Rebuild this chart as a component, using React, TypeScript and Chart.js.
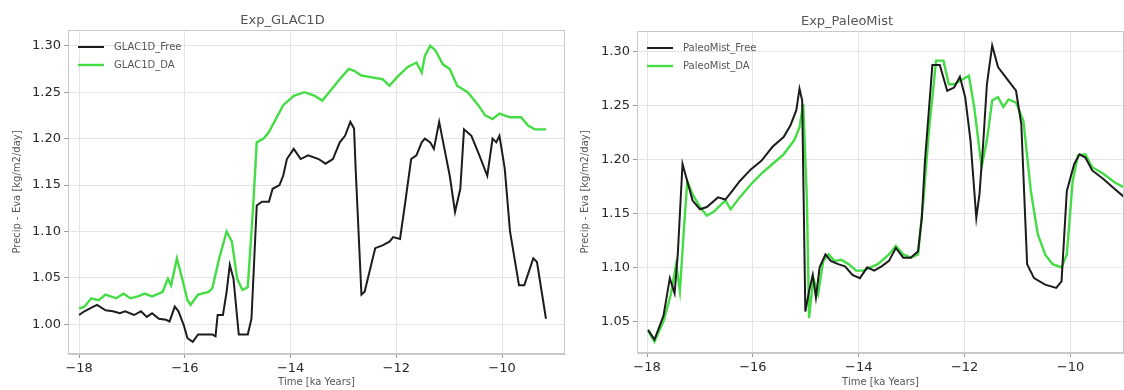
import React, { useEffect, useRef } from "react";
import { Chart, registerables } from "chart.js";

Chart.register(...registerables);

// ---------- data ----------
const glacFreeTime = [-18.0, -17.9, -17.73, -17.66, -17.5, -17.36, -17.23, -17.13, -16.96, -16.83, -16.72, -16.62, -16.49, -16.36, -16.29, -16.19, -16.12, -16.02, -15.95, -15.85, -15.75, -15.48, -15.42, -15.38, -15.28, -15.21, -15.15, -15.08, -14.98, -14.81, -14.74, -14.64, -14.54, -14.41, -14.34, -14.21, -14.14, -14.07, -13.94, -13.81, -13.67, -13.47, -13.34, -13.2, -13.07, -12.97, -12.87, -12.8, -12.77, -12.66, -12.6, -12.4, -12.26, -12.13, -12.06, -11.93, -11.83, -11.72, -11.62, -11.52, -11.46, -11.36, -11.29, -11.19, -11.09, -10.99, -10.89, -10.79, -10.72, -10.58, -10.45, -10.28, -10.18, -10.11, -10.05, -9.95, -9.85, -9.68, -9.58, -9.41, -9.34, -9.17];
const glacFreeValue = [1.01, 1.014, 1.019, 1.021, 1.015, 1.014, 1.012, 1.014, 1.01, 1.014, 1.008, 1.012, 1.006, 1.005, 1.003, 1.019, 1.014, 0.999, 0.985, 0.981, 0.989, 0.989, 0.987, 1.01, 1.01, 1.035, 1.064, 1.049, 0.989, 0.989, 1.006, 1.128, 1.132, 1.132, 1.146, 1.15, 1.16, 1.178, 1.189, 1.178, 1.182, 1.178, 1.173, 1.178, 1.196, 1.203, 1.218, 1.211, 1.168, 1.032, 1.035, 1.082, 1.085, 1.089, 1.094, 1.092, 1.132, 1.178, 1.182, 1.196, 1.2, 1.196, 1.189, 1.218, 1.189, 1.16, 1.121, 1.146, 1.21, 1.203, 1.185, 1.16, 1.2, 1.196, 1.203, 1.168, 1.1, 1.042, 1.042, 1.071, 1.067, 1.006];

const glacDaTime = [-18.0, -17.9, -17.77, -17.63, -17.5, -17.3, -17.16, -17.03, -16.89, -16.76, -16.62, -16.49, -16.42, -16.32, -16.26, -16.15, -16.05, -15.95, -15.89, -15.75, -15.55, -15.48, -15.35, -15.21, -15.11, -15.01, -14.91, -14.81, -14.71, -14.64, -14.51, -14.41, -14.28, -14.14, -13.94, -13.74, -13.54, -13.4, -13.27, -13.07, -12.9, -12.8, -12.66, -12.46, -12.26, -12.13, -11.99, -11.79, -11.62, -11.52, -11.46, -11.36, -11.26, -11.12, -10.99, -10.85, -10.65, -10.45, -10.32, -10.18, -10.05, -9.85, -9.64, -9.51, -9.38, -9.17];
const glacDaValue = [1.017, 1.019, 1.028, 1.026, 1.032, 1.028, 1.033, 1.028, 1.03, 1.033, 1.03, 1.033, 1.035, 1.049, 1.042, 1.071, 1.049, 1.026, 1.021, 1.032, 1.035, 1.039, 1.071, 1.1, 1.089, 1.049, 1.037, 1.04, 1.125, 1.196, 1.2, 1.207, 1.221, 1.236, 1.246, 1.25, 1.246, 1.241, 1.25, 1.264, 1.275, 1.273, 1.268, 1.266, 1.264, 1.257, 1.266, 1.277, 1.282, 1.271, 1.289, 1.3, 1.295, 1.28, 1.275, 1.257, 1.25, 1.236, 1.225, 1.221, 1.227, 1.223, 1.223, 1.214, 1.21, 1.21];

const paleoFreeTime = [-17.98, -17.86, -17.69, -17.57, -17.48, -17.42, -17.33, -17.24, -17.14, -17.0, -16.87, -16.66, -16.52, -16.39, -16.25, -16.04, -15.84, -15.63, -15.42, -15.29, -15.18, -15.12, -15.07, -15.01, -14.94, -14.87, -14.81, -14.74, -14.63, -14.53, -14.39, -14.26, -14.12, -13.98, -13.84, -13.71, -13.57, -13.43, -13.3, -13.16, -13.02, -12.88, -12.81, -12.75, -12.61, -12.47, -12.33, -12.2, -12.09, -11.99, -11.89, -11.78, -11.72, -11.65, -11.58, -11.48, -11.37, -11.23, -11.03, -10.93, -10.82, -10.69, -10.48, -10.27, -10.17, -10.07, -9.93, -9.83, -9.72, -9.59, -9.38, -9.17, -8.98];
const paleoFreeValue = [1.042, 1.033, 1.055, 1.09, 1.076, 1.112, 1.196, 1.18, 1.162, 1.154, 1.156, 1.165, 1.163, 1.171, 1.18, 1.191, 1.199, 1.212, 1.221, 1.232, 1.246, 1.266, 1.255, 1.059, 1.078, 1.093, 1.072, 1.1, 1.112, 1.106, 1.103, 1.101, 1.093, 1.09, 1.1, 1.097, 1.101, 1.106, 1.118, 1.109, 1.109, 1.115, 1.146, 1.199, 1.288, 1.288, 1.264, 1.267, 1.277, 1.258, 1.218, 1.146, 1.168, 1.215, 1.27, 1.306, 1.286, 1.277, 1.264, 1.233, 1.103, 1.09, 1.084, 1.081, 1.087, 1.171, 1.196, 1.205, 1.202, 1.19, 1.182, 1.173, 1.165];

const paleoDaTime = [-17.98, -17.86, -17.69, -17.55, -17.45, -17.38, -17.31, -17.24, -17.14, -17.0, -16.87, -16.73, -16.59, -16.52, -16.42, -16.25, -16.04, -15.84, -15.63, -15.42, -15.22, -15.12, -15.05, -14.98, -14.94, -14.86, -14.77, -14.67, -14.57, -14.46, -14.33, -14.19, -14.05, -13.91, -13.78, -13.64, -13.43, -13.3, -13.16, -13.02, -12.88, -12.78, -12.68, -12.54, -12.4, -12.3, -12.2, -12.06, -11.92, -11.82, -11.68, -11.58, -11.48, -11.37, -11.27, -11.17, -11.03, -10.89, -10.75, -10.62, -10.48, -10.34, -10.17, -10.07, -9.96, -9.86, -9.72, -9.59, -9.38, -9.17, -8.98];
const paleoDaValue = [1.041, 1.031, 1.05, 1.075, 1.103, 1.078, 1.131, 1.18, 1.168, 1.156, 1.148, 1.152, 1.159, 1.162, 1.154, 1.165, 1.177, 1.187, 1.196, 1.205, 1.218, 1.23, 1.252, 1.162, 1.053, 1.09, 1.075, 1.106, 1.112, 1.106, 1.107, 1.103, 1.097, 1.097, 1.1, 1.103, 1.112, 1.12, 1.112, 1.109, 1.112, 1.162, 1.224, 1.292, 1.292, 1.27, 1.27, 1.274, 1.278, 1.249, 1.193, 1.218, 1.255, 1.258, 1.249, 1.256, 1.253, 1.236, 1.171, 1.131, 1.112, 1.103, 1.1, 1.112, 1.18, 1.204, 1.205, 1.193, 1.187, 1.179, 1.174];

const xTickValues = [-18, -16, -14, -12, -10];
const glacYTicks = [1.0, 1.05, 1.1, 1.15, 1.2, 1.25, 1.3];
const paleoYTicks = [1.05, 1.1, 1.15, 1.2, 1.25, 1.3];

const glacTitle = "Exp_GLAC1D";
const paleoTitle = "Exp_PaleoMist";
const glacLabels = ["GLAC1D_Free", "GLAC1D_DA"];
const paleoLabels = ["PaleoMist_Free", "PaleoMist_DA"];
const xAxisTitle = "Time [ka Years]";
const yAxisTitle = "Precip - Eva [kg/m2/day]";

// ---------- styles ----------
const FONT = '"DejaVu Sans", sans-serif';
const BLACK = "#1c1c1c";
const GREEN = "#45dc45";
const GRID = "#e4e4e4";
const FRAME = "#c9c9c9";
const TICK_TEXT = "#2a2a2a";
const LABEL_TEXT = "#555555";

type PanelCfg = {
  title: string;
  labels: string[];
  free: { t: number[]; v: number[] };
  da: { t: number[]; v: number[] };
  xMin: number;
  xMax: number;
  yMin: number;
  yMax: number;
  yTicks: number[];
  yWidth: number;
  xHeight: number;
  padRight: number;
  titlePadTop: number;
  titlePadBottom: number;
  yTitlePad: number;
};

const fmtX = (v: number) => (v < 0 ? "\u2212" + Math.abs(v) : String(v));

function makePanelPlugin(labels: string[]) {
  return {
    id: "panelDecor",
    afterDraw(chart: any) {
      const { ctx, chartArea: a } = chart;
      ctx.save();
      ctx.strokeStyle = FRAME;
      ctx.lineWidth = 1;
      ctx.strokeRect(Math.round(a.left) + 0.5, Math.round(a.top) + 0.5, Math.round(a.right - a.left) - 1, Math.round(a.bottom - a.top) - 1);
      const colors = [BLACK, GREEN];
      const widths = [2, 2.4];
      ctx.font = "10px " + FONT;
      ctx.textBaseline = "middle";
      ctx.textAlign = "left";
      labels.forEach((lab, i) => {
        const y = a.top + 17 + i * 18;
        ctx.strokeStyle = colors[i];
        ctx.lineWidth = widths[i];
        ctx.beginPath();
        ctx.moveTo(a.left + 10, y);
        ctx.lineTo(a.left + 36, y);
        ctx.stroke();
        ctx.fillStyle = LABEL_TEXT;
        ctx.fillText(lab, a.left + 46, y);
      });
      ctx.restore();
    },
  };
}

function buildConfig(c: PanelCfg): any {
  return {
    type: "line",
    data: {
      datasets: [
        {
          label: c.labels[0],
          data: c.free.t.map((t, i) => ({ x: t, y: c.free.v[i] })),
          borderColor: BLACK,
          borderWidth: 2,
          pointRadius: 0,
          tension: 0,
          fill: false,
        },
        {
          label: c.labels[1],
          data: c.da.t.map((t, i) => ({ x: t, y: c.da.v[i] })),
          borderColor: GREEN,
          borderWidth: 2.4,
          pointRadius: 0,
          tension: 0,
          fill: false,
        },
      ],
    },
    options: {
      animation: false,
      responsive: false,
      maintainAspectRatio: false,
      layout: { padding: { left: 0, right: c.padRight, top: 0, bottom: 0 } },
      plugins: {
        legend: { display: false },
        tooltip: { enabled: false },
        title: {
          display: true,
          text: c.title,
          color: LABEL_TEXT,
          font: { family: FONT, size: 13, weight: "normal" },
          padding: { top: c.titlePadTop, bottom: c.titlePadBottom },
        },
      },
      scales: {
        x: {
          type: "linear",
          min: c.xMin,
          max: c.xMax,
          afterBuildTicks: (s: any) => {
            s.ticks = xTickValues.map((v) => ({ value: v }));
          },
          afterFit: (s: any) => {
            s.height = c.xHeight;
          },
          ticks: {
            callback: (v: any) => fmtX(Number(v)),
            color: TICK_TEXT,
            font: { family: FONT, size: 13 },
            padding: 3,
            maxRotation: 0,
            autoSkip: false,
          },
          grid: { color: GRID, tickLength: 4, tickColor: "#999999", lineWidth: 1 },
          border: { color: FRAME },
          title: {
            display: true,
            text: xAxisTitle,
            color: LABEL_TEXT,
            font: { family: FONT, size: 10 },
            padding: { top: 0, bottom: 2 },
          },
        },
        y: {
          type: "linear",
          min: c.yMin,
          max: c.yMax,
          afterBuildTicks: (s: any) => {
            s.ticks = c.yTicks.map((v) => ({ value: v }));
          },
          afterFit: (s: any) => {
            s.width = c.yWidth;
          },
          ticks: {
            callback: (v: any) => Number(v).toFixed(2),
            color: TICK_TEXT,
            font: { family: FONT, size: 13 },
            padding: 3,
            autoSkip: false,
          },
          grid: { color: GRID, tickLength: 4, tickColor: "#999999", lineWidth: 1 },
          border: { color: FRAME },
          title: {
            display: true,
            text: yAxisTitle,
            color: LABEL_TEXT,
            font: { family: FONT, size: 10 },
            padding: { top: c.yTitlePad, bottom: 0 },
          },
        },
      },
    },
    plugins: [makePanelPlugin(c.labels)],
  };
}

function Panel({ cfg, left, width }: { cfg: PanelCfg; left: number; width: number }) {
  const ref = useRef<HTMLCanvasElement | null>(null);
  useEffect(() => {
    if (!ref.current) return;
    const chart = new Chart(ref.current, buildConfig(cfg));
    return () => chart.destroy();
  }, [cfg]);
  return (
    <canvas
      ref={ref}
      width={width}
      height={390}
      style={{ position: "absolute", left, top: 0, width, height: 390 }}
    />
  );
}

const glacCfg: PanelCfg = {
  title: glacTitle,
  labels: glacLabels,
  free: { t: glacFreeTime, v: glacFreeValue },
  da: { t: glacDaTime, v: glacDaValue },
  xMin: -18.21,
  xMax: -8.81,
  yMin: 0.968,
  yMax: 1.317,
  yTicks: glacYTicks,
  yWidth: 68,
  xHeight: 36,
  padRight: 5,
  titlePadTop: 13,
  titlePadBottom: 1.4,
  yTitlePad: 11,
};

const paleoCfg: PanelCfg = {
  title: paleoTitle,
  labels: paleoLabels,
  free: { t: paleoFreeTime, v: paleoFreeValue },
  da: { t: paleoDaTime, v: paleoDaValue },
  xMin: -18.19,
  xMax: -8.99,
  yMin: 1.0205,
  yMax: 1.3195,
  yTicks: paleoYTicks,
  yWidth: 67,
  xHeight: 37,
  padRight: 0,
  titlePadTop: 14,
  titlePadBottom: 1.4,
  yTitlePad: 9,
};

export default function App() {
  return (
    <div style={{ position: "fixed", left: 0, top: 0, width: 1124, height: 390, background: "#ffffff", overflow: "hidden" }}>
      <Panel cfg={glacCfg} left={0} width={570} />
      <Panel cfg={paleoCfg} left={570} width={554} />
    </div>
  );
}
